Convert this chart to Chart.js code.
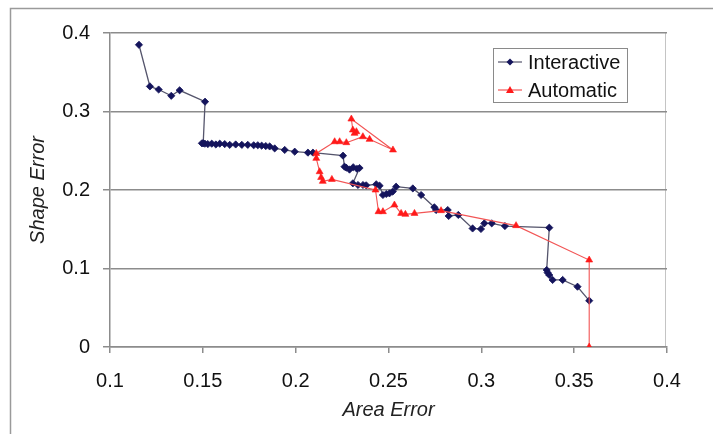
<!DOCTYPE html>
<html>
<head>
<meta charset="utf-8">
<title>Shape Error vs Area Error</title>
<script src="https://cdn.jsdelivr.net/npm/chart.js@4/dist/chart.umd.min.js"></script>
<style>
    html, body { margin: 0; padding: 0; background: #ffffff; }
    #wrap { width: 713px; height: 434px; }
</style>
</head>
<body>
<div id="wrap"><canvas id="chart" width="713" height="434"></canvas></div>
<script>
// Values
const interactiveX = [
    0.1156, 0.1215, 0.1262, 0.1330, 0.1375, 0.1512, 0.1502,
    0.1495, 0.1511, 0.1527, 0.1548, 0.1570, 0.1591, 0.1618, 0.1645, 0.1677, 0.1710,
    0.1742, 0.1774, 0.1796, 0.1817, 0.1839, 0.1860,
    0.1887, 0.1941, 0.1995, 0.2066, 0.2093, 0.2255, 0.2263,
    0.2272, 0.2290, 0.2310, 0.2330, 0.2344, 0.2308,
    0.2336, 0.2363, 0.2380, 0.2434, 0.2452,
    0.2470, 0.2488, 0.2505, 0.2523, 0.2541, 0.2631, 0.2676,
    0.2747, 0.2756, 0.2819, 0.2824, 0.2876, 0.2953, 0.2998, 0.3016, 0.3056, 0.3127,
    0.3366, 0.3352, 0.3357, 0.3366, 0.3384, 0.3438, 0.3518, 0.3581
];
const interactiveY = [
    0.385, 0.332, 0.328, 0.320, 0.327, 0.3125, 0.2595,
    0.2595, 0.2590, 0.2585, 0.2590, 0.2580, 0.2590, 0.2585, 0.2575, 0.2580, 0.2575,
    0.2575, 0.2570, 0.2570, 0.2565, 0.2560, 0.2555,
    0.2530, 0.2510, 0.2488, 0.2476, 0.2476, 0.2437, 0.2297,
    0.2285, 0.2260, 0.2290, 0.2270, 0.2280, 0.2085,
    0.2064, 0.2064, 0.2060, 0.2073, 0.2055,
    0.1936, 0.1949, 0.1957, 0.1980, 0.2042, 0.2020, 0.1936,
    0.1780, 0.1745, 0.1745, 0.1669, 0.1682, 0.1510, 0.1503, 0.1575, 0.1575, 0.1541,
    0.1520, 0.0981, 0.0947, 0.0917, 0.0854, 0.0854, 0.0768, 0.0590
];
const automaticX = [
    0.2327, 0.2317, 0.2308, 0.2300, 0.2524, 0.2398, 0.2362, 0.2273, 0.2237, 0.2210,
    0.2111, 0.2111, 0.2129, 0.2137, 0.2146, 0.2195, 0.2430, 0.2446, 0.2470, 0.2532,
    0.2568, 0.2591, 0.2640, 0.2783, 0.3187, 0.3581, 0.3581
];
const automaticY = [
    0.2743, 0.2722, 0.2764, 0.2904, 0.2510, 0.2645, 0.2679, 0.2603, 0.2615, 0.2615,
    0.2466, 0.2403, 0.2233, 0.2160, 0.2110, 0.2135, 0.2000, 0.1724, 0.1724, 0.1809,
    0.1702, 0.1690, 0.1702, 0.1737, 0.1546, 0.1108, 0.0
];
const seriesNames = ['Interactive', 'Automatic'];
const xTickLabels = ['0.1', '0.15', '0.2', '0.25', '0.3', '0.35', '0.4'];
const yTickLabels = ['0', '0.1', '0.2', '0.3', '0.4'];

const FONT = '"Liberation Sans", Arial, sans-serif';
const NAVY = '#14145c';
const NAVY_LINE = '#55556c';
const RED = '#ff1a1a';
const RED_LINE = '#f25555';

function toPoints(xs, ys) {
    return xs.map((x, i) => ({ x: x, y: ys[i] }));
}

// Outer frame, right border of the plot and the legend box
const decorPlugin = {
    id: 'decor',
    beforeDraw(chart) {
        const ctx = chart.ctx;
        const area = chart.chartArea;
        ctx.save();
        ctx.strokeStyle = '#9a9a9a';
        ctx.lineWidth = 1.5;
        ctx.beginPath();
        ctx.moveTo(10.5, 434);
        ctx.lineTo(10.5, 8.5);
        ctx.lineTo(713, 8.5);
        ctx.stroke();

        ctx.strokeStyle = '#c4c4c4';
        ctx.lineWidth = 1;
        ctx.beginPath();
        ctx.moveTo(Math.round(area.right) - 1.5, area.top);
        ctx.lineTo(Math.round(area.right) - 1.5, area.bottom);
        ctx.stroke();
        ctx.restore();
    },
    afterDraw(chart) {
        const ctx = chart.ctx;
        ctx.save();
        ctx.fillStyle = '#ffffff';
        ctx.fillRect(493, 48, 134, 54);
        ctx.strokeStyle = '#8a8a8a';
        ctx.lineWidth = 1;
        ctx.strokeRect(493.5, 48.5, 134, 54);

        const rows = [
            { y: 62, line: NAVY_LINE, fill: NAVY, shape: 'diamond' },
            { y: 90, line: RED_LINE, fill: RED, shape: 'triangle' }
        ];
        rows.forEach((r, i) => {
            ctx.strokeStyle = r.line;
            ctx.lineWidth = 1.2;
            ctx.beginPath();
            ctx.moveTo(498, r.y);
            ctx.lineTo(522, r.y);
            ctx.stroke();
            ctx.fillStyle = r.fill;
            ctx.beginPath();
            if (r.shape === 'diamond') {
                ctx.moveTo(510, r.y - 3.5);
                ctx.lineTo(513.5, r.y);
                ctx.lineTo(510, r.y + 3.5);
                ctx.lineTo(506.5, r.y);
            } else {
                ctx.moveTo(510, r.y - 4);
                ctx.lineTo(514, r.y + 3);
                ctx.lineTo(506, r.y + 3);
            }
            ctx.closePath();
            ctx.fill();

            ctx.fillStyle = '#111111';
            ctx.font = '20px ' + FONT;
            ctx.textBaseline = 'middle';
            ctx.textAlign = 'left';
            ctx.fillText(seriesNames[i], 528, r.y + 1);
        });
        ctx.restore();
    }
};

new Chart(document.getElementById('chart'), {
    type: 'scatter',
    data: {
        datasets: [
            {
                label: seriesNames[0],
                data: toPoints(interactiveX, interactiveY),
                showLine: true,
                borderColor: NAVY_LINE,
                borderWidth: 1.3,
                backgroundColor: NAVY,
                pointBackgroundColor: NAVY,
                pointBorderColor: NAVY,
                pointStyle: 'rectRot',
                pointRadius: 3.6,
                pointBorderWidth: 0.8,
                tension: 0,
                order: 2
            },
            {
                label: seriesNames[1],
                data: toPoints(automaticX, automaticY),
                showLine: true,
                borderColor: RED_LINE,
                borderWidth: 1.1,
                backgroundColor: RED,
                pointBackgroundColor: RED,
                pointBorderColor: RED,
                pointStyle: 'triangle',
                pointRadius: 4,
                pointBorderWidth: 0.6,
                tension: 0,
                order: 1
            }
        ]
    },
    options: {
        responsive: false,
        animation: false,
        devicePixelRatio: 1,
        layout: {
            padding: { top: 33, right: 46, bottom: 0, left: 0 }
        },
        plugins: {
            legend: { display: false },
            tooltip: { enabled: false }
        },
        scales: {
            x: {
                type: 'linear',
                min: 0.1,
                max: 0.4,
                afterFit: (scale) => { scale.height = 87; },
                afterBuildTicks: (scale) => {
                    scale.ticks = xTickLabels.map(v => ({ value: parseFloat(v) }));
                },
                ticks: {
                    color: '#111111',
                    font: { family: FONT, size: 20 },
                    padding: 16,
                    maxRotation: 0,
                    callback: (value, index) => xTickLabels[index]
                },
                grid: {
                    drawOnChartArea: false,
                    drawTicks: true,
                    tickLength: 6,
                    color: '#8c8c8c',
                    lineWidth: 1.5
                },
                border: { color: '#8c8c8c', width: 1.5 },
                title: {
                    display: true,
                    text: 'Area Error',
                    color: '#222222',
                    font: { family: FONT, size: 20, style: 'italic' },
                    padding: { top: 0, bottom: 12 }
                }
            },
            y: {
                type: 'linear',
                min: 0,
                max: 0.4,
                afterFit: (scale) => { scale.width = 110; },
                afterBuildTicks: (scale) => {
                    scale.ticks = yTickLabels.map(v => ({ value: parseFloat(v) }));
                },
                ticks: {
                    color: '#111111',
                    font: { family: FONT, size: 20 },
                    padding: 13,
                    callback: (value, index) => yTickLabels[index]
                },
                grid: {
                    drawOnChartArea: true,
                    drawTicks: true,
                    tickLength: 7,
                    color: '#8c8c8c',
                    lineWidth: 1.5
                },
                border: { color: '#8c8c8c', width: 1.5 },
                title: {
                    display: true,
                    text: 'Shape Error',
                    color: '#222222',
                    font: { family: FONT, size: 20, style: 'italic' },
                    padding: { top: 26, bottom: 0 }
                }
            }
        }
    },
    plugins: [decorPlugin]
});
</script>
</body>
</html>
